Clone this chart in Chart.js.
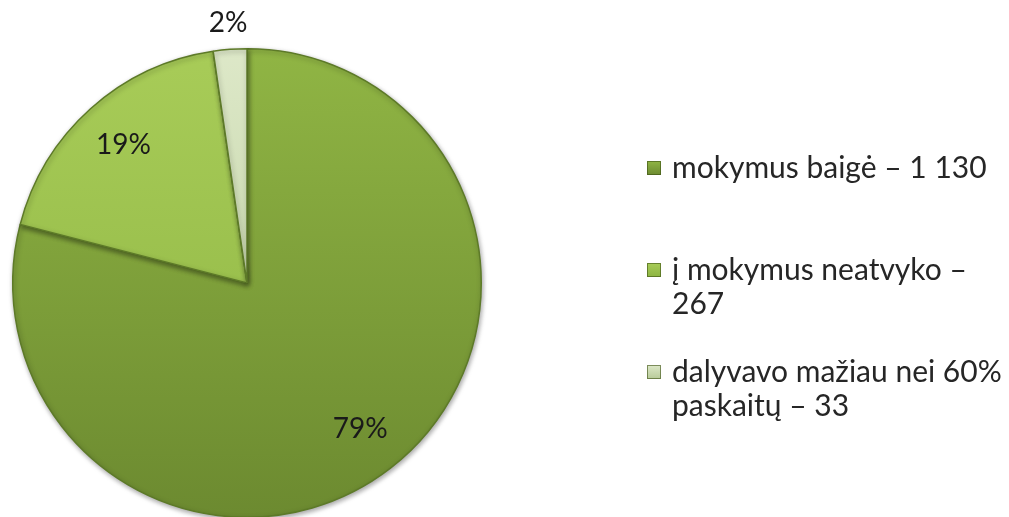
<!DOCTYPE html>
<html lang="lt">
<head>
  <meta charset="UTF-8">
  <title>Mokymų dalyviai</title>
  <script src="https://cdn.jsdelivr.net/npm/chart.js"></script>
  <style>
    html, body { margin: 0; padding: 0; background: #fff; overflow: hidden; }
    #wrap { position: relative; width: 1009px; height: 530px; }
  </style>
</head>
<body>
  <div id="wrap"><canvas id="pie"></canvas></div>

  <script>
    const categories = ['mokymus baigė', 'į mokymus neatvyko', 'dalyvavo mažiau nei 60% paskaitų'];
    const values = [1130, 267, 33];
    const topColors = ['#90b544', '#a8cc58', '#dde8c8'];
    const bottomColors = ['#6c8a30', '#8db442', '#b7ca98'];

    const FONT = 'Lato, "Open Sans", sans-serif';
    const total = values.reduce((a, b) => a + b, 0);

    function fmt(n) {
      return String(n).replace(/\B(?=(\d{3})+(?!\d))/g, ' ');
    }

    function sliceFill(ctx) {
      const chart = ctx.chart;
      const area = chart.chartArea;
      if (!area) return topColors[ctx.dataIndex];
      const g = chart.ctx.createLinearGradient(0, area.top, 0, area.bottom);
      g.addColorStop(0, topColors[ctx.dataIndex]);
      g.addColorStop(1, bottomColors[ctx.dataIndex]);
      return g;
    }

    // soft shadow under the slices
    const pieShadow = {
      id: 'pieShadow',
      beforeDatasetsDraw(chart) {
        const c = chart.ctx;
        c.save();
        c.shadowColor = 'rgba(0,0,0,0.35)';
        c.shadowBlur = 5;
        c.shadowOffsetX = 1;
        c.shadowOffsetY = 2;
      },
      afterDatasetsDraw(chart) {
        chart.ctx.restore();
      }
    };

    // percent labels on the slices
    const pctLabels = {
      id: 'pctLabels',
      afterDatasetsDraw(chart) {
        const c = chart.ctx;
        const meta = chart.getDatasetMeta(0);
        c.save();
        c.font = '28px ' + FONT;
        c.fillStyle = '#1a1a1a';
        c.textAlign = 'center';
        c.textBaseline = 'middle';
        meta.data.forEach((arc, i) => {
          const p = Math.round(values[i] / total * 100) + '%';
          const mid = (arc.startAngle + arc.endAngle) / 2;
          const r = i === 2 ? arc.outerRadius + 26 : arc.outerRadius * 0.79;
          c.fillText(p, arc.x + Math.cos(mid) * r, arc.y + Math.sin(mid) * r);
        });
        c.restore();
      }
    };

    // legend at the right, wrapped text
    const sideLegend = {
      id: 'sideLegend',
      afterDraw(chart) {
        const c = chart.ctx;
        const x0 = 647, textX = 672, maxW = 337, y0 = 168, slot = 102, lh = 34;
        c.save();
        c.font = '30px ' + FONT;
        c.textBaseline = 'middle';
        categories.forEach((cat, i) => {
          const words = (cat + ' – ' + fmt(values[i])).split(' ');
          const lines = [];
          let cur = '';
          words.forEach(w => {
            const t = cur ? cur + ' ' + w : w;
            if (c.measureText(t).width > maxW && cur) { lines.push(cur); cur = w; }
            else cur = t;
          });
          lines.push(cur);
          const y = y0 + i * slot;
          const g = c.createLinearGradient(0, y - 7, 0, y + 7);
          g.addColorStop(0, topColors[i]);
          g.addColorStop(1, bottomColors[i]);
          c.fillStyle = g;
          c.fillRect(x0, y - 7, 14, 14);
          c.strokeStyle = 'rgba(60,80,20,0.6)';
          c.lineWidth = 1;
          c.strokeRect(x0 + 0.5, y - 6.5, 13, 13);
          c.fillStyle = '#262626';
          lines.forEach((ln, k) => c.fillText(ln, textX, y + k * lh));
        });
        c.restore();
      }
    };

    new Chart(document.getElementById('pie'), {
      type: 'pie',
      data: {
        labels: categories,
        datasets: [{
          data: values,
          backgroundColor: sliceFill,
          borderColor: '#5d7a28',
          borderWidth: 1.5
        }]
      },
      options: {
        responsive: true,
        maintainAspectRatio: false,
        animation: false,
        layout: { padding: { left: 12, right: 527, top: 48, bottom: 12 } },
        plugins: {
          legend: { display: false },
          tooltip: { enabled: false }
        }
      },
      plugins: [pieShadow, pctLabels, sideLegend]
    });
  </script>
</body>
</html>
